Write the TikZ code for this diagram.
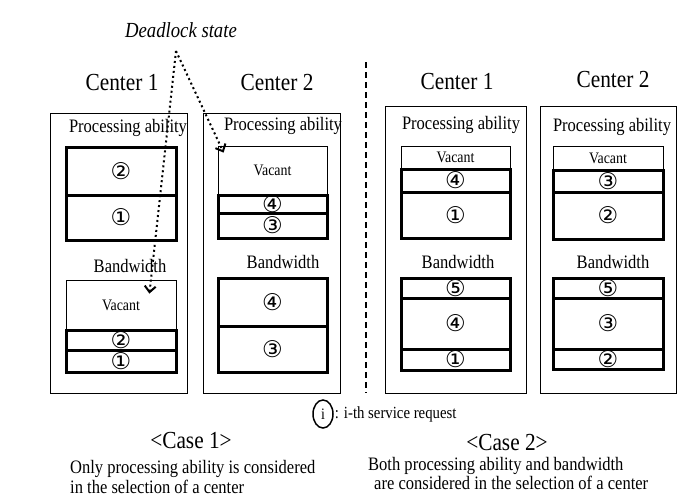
\documentclass[tikz,border=0pt]{standalone}
\usepackage{fontspec}
\setmainfont{Liberation Serif}[FakeStretch=0.87]
\newfontfamily\circfont{DejaVu Sans}
\usetikzlibrary{shapes.geometric}
\usetikzlibrary{arrows.meta}

\begin{document}
\begin{tikzpicture}[x=1pt, y=-1pt,
  ctr/.style={font=\fontsize{24.5}{28}\selectfont},
  lbl/.style={font=\fontsize{19}{22}\selectfont},
  outer/.style={draw, line width=0.8pt},
  vac/.style={draw, line width=0.8pt, inner sep=0pt, font=\fontsize{16}{18}\selectfont},
  req/.style={draw, line width=3pt, inner sep=0pt, text height=16.5pt, text depth=0pt,
    font=\circfont\fontsize{23}{24}\selectfont},
  dead/.style={dash pattern=on 2pt off 3pt, line width=2pt,
    -{Straight Barb[length=6pt, width=11pt, line width=2pt]}}]
  \useasboundingbox (0,0) rectangle (690,501);
  % case 1
  \node[font=\itshape\fontsize{21.5}{24}\selectfont] at (181,30) (dl) {Deadlock state};
  \coordinate (dlo) at (176,51);
  \node[ctr] at (122,83) (c1) {Center 1};
  \node[ctr] at (277,83) (c2) {Center 2};
  \draw[outer] (50,113) rectangle (187,393);
  \draw[outer] (203,113) rectangle (340,393);
  \node[lbl] at (128,128) (p1) {Processing ability};
  \node[lbl] at (283,126) (p2) {Processing ability};
  \node[req, minimum width=110pt, minimum height=48pt] at (121,171) (p1b) {②};
  \node[req, minimum width=110pt, minimum height=45pt] at (121,217.5) (p1a) {①};
  \node[lbl] at (130,266) (b1) {Bandwidth};
  \node[vac, minimum width=110pt, minimum height=50pt] at (121,305) (b1v) {Vacant};
  \node[req, minimum width=110pt, minimum height=20pt] at (121,340) (b1b) {②};
  \node[req, minimum width=110pt, minimum height=22pt] at (121,361) (b1a) {①};
  \node[vac, minimum width=109pt, minimum height=49pt] at (272.5,170.5) (p2v) {Vacant};
  \node[req, minimum width=109pt, minimum height=18pt] at (272.5,204) (p2d) {④};
  \node[req, minimum width=109pt, minimum height=25pt] at (272.5,225.5) (p2c) {③};
  \node[lbl] at (283,262) (b2) {Bandwidth};
  \node[req, minimum width=109pt, minimum height=48pt] at (272.5,302) (b2d) {④};
  \node[req, minimum width=109pt, minimum height=46pt] at (272.5,349) (b2c) {③};
  \draw[dead] (dlo) -- ([xshift=6pt,yshift=-7pt]p2v.north west);
  \draw[dead] (dlo) -- ([xshift=-27pt,yshift=-14pt]b1v.north east);
  % divider
  \draw[line width=1.5pt, dash pattern=on 6pt off 4pt] (366,62) -- (366,393);
  % case 2
  \node[ctr] at (457,82) (d1) {Center 1};
  \node[ctr] at (613,80) (d2) {Center 2};
  \draw[outer] (385,106) rectangle (526,393);
  \draw[outer] (540,106) rectangle (676,393);
  \node[lbl] at (461,125) (q1) {Processing ability};
  \node[lbl] at (612,127) (q2) {Processing ability};
  \node[vac, minimum width=109pt, minimum height=23pt] at (455.5,157.5) (q1v) {Vacant};
  \node[req, minimum width=109pt, minimum height=23pt] at (455.5,180.5) (q1d) {④};
  \node[req, minimum width=109pt, minimum height=46pt] at (455.5,215) (q1a) {①};
  \node[lbl] at (458,262) (e1) {Bandwidth};
  \node[req, minimum width=109pt, minimum height=20pt] at (455.5,288) (e1e) {⑤};
  \node[req, minimum width=109pt, minimum height=51pt] at (455.5,323.5) (e1d) {④};
  \node[req, minimum width=109pt, minimum height=21pt] at (455.5,359.5) (e1a) {①};
  \node[vac, minimum width=110pt, minimum height=24pt] at (608,158) (q2v) {Vacant};
  \node[req, minimum width=110pt, minimum height=22pt] at (608,181) (q2c) {③};
  \node[req, minimum width=110pt, minimum height=47pt] at (608,215.5) (q2b) {②};
  \node[lbl] at (613,262) (e2) {Bandwidth};
  \node[req, minimum width=110pt, minimum height=20pt] at (608,288) (e2e) {⑤};
  \node[req, minimum width=110pt, minimum height=51pt] at (608,323.5) (e2c) {③};
  \node[req, minimum width=110pt, minimum height=20pt] at (608,359) (e2b) {②};
  % legend
  \node[ellipse, draw, line width=1.5pt, minimum width=20pt, minimum height=28pt, inner sep=0pt,
    font=\fontsize{16}{18}\selectfont] at (323,414) (ith) {i};
  \node[anchor=west, font=\fontsize{17}{19}\selectfont, inner sep=1pt] at (ith.east) (ithx) {: i-th service request};
  \node[ctr] at (191,440) (k1) {<Case 1>};
  \node[ctr] at (507,442) (k2) {<Case 2>};
  \node[anchor=west, align=left, inner sep=0pt, font=\fontsize{19}{20}\selectfont] at (70,477) (t1)
    {Only processing ability is considered\\in the selection of a center};
  \node[anchor=west, align=left, inner sep=0pt, font=\fontsize{19}{19}\selectfont] at (368,473.5) (t2)
    {Both processing ability and bandwidth\\\hspace*{6pt}are considered in the selection of a center};
\end{tikzpicture}
\end{document}
